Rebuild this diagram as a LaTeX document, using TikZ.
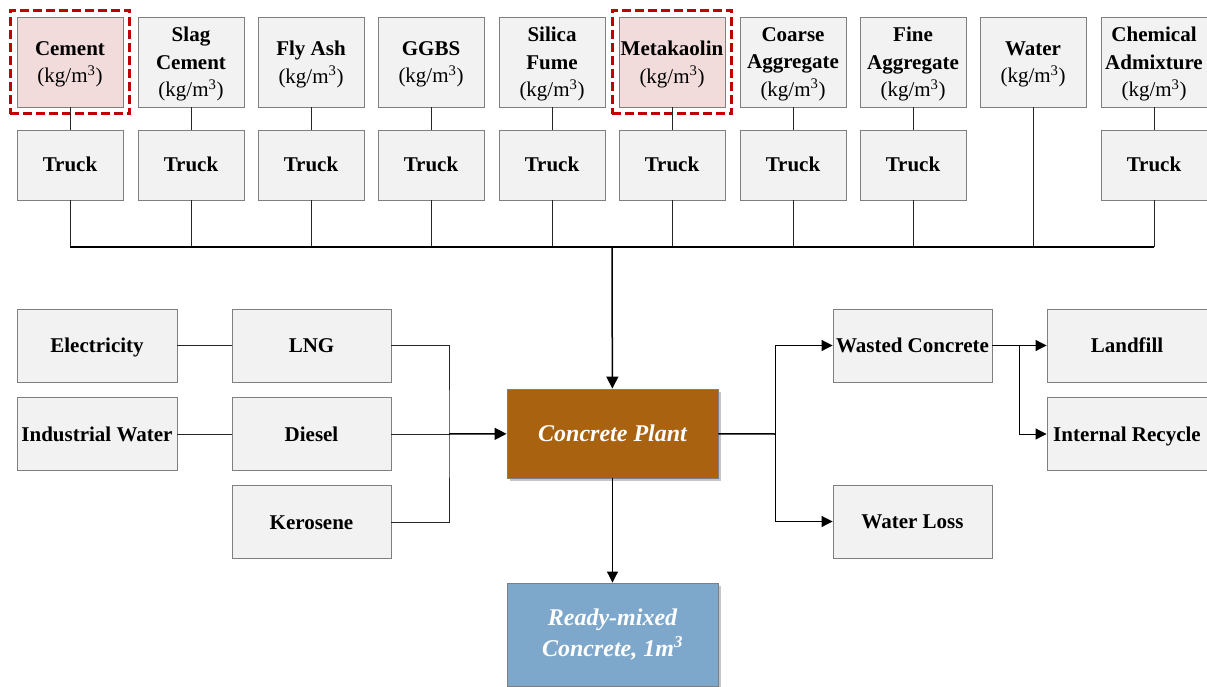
\documentclass[tikz,border=0pt]{standalone}
\usepackage{fontspec}
\setmainfont{Liberation Serif}
\usetikzlibrary{arrows.meta,fit,shadows}

\definecolor{boxgray}{HTML}{F2F2F2}
\definecolor{linegray}{HTML}{7F7F7F}
\definecolor{hilitered}{HTML}{C00000}
\definecolor{hilitefill}{HTML}{F2DCDB}
\definecolor{plantbrown}{HTML}{A9620F}
\definecolor{productblue}{HTML}{7EA8CB}

\newcommand{\perunit}{\\\mdseries(kg/m\textsuperscript{3})}

\tikzset{
  inbox/.style={draw=linegray, fill=boxgray, line width=0.9pt, minimum width=106pt, minimum height=90pt,
    inner sep=1pt, align=center, text depth=0pt, font=\fontsize{21}{27.5}\selectfont\bfseries},
  truckbox/.style={inbox, minimum height=70pt, text height=14pt},
  sidebox/.style={inbox, minimum width=160pt, minimum height=73pt, text height=14pt},
  mainbox/.style={draw=linegray, line width=0.9pt, minimum width=211pt, align=center, text=white,
    font=\fontsize{24}{31}\selectfont\bfseries\itshape,
    drop shadow={shadow xshift=2.5pt, shadow yshift=-2.5pt, fill=black!45}},
  link/.style={draw=black!85, line width=1pt},
  trunk/.style={link, draw=black, line width=1.5pt},
  flow/.style={link, draw=black, -{Triangle[length=11pt,width=11pt]}},
  hilite/.style={draw=hilitered, line width=3pt, dash pattern=on 9pt off 4pt, inner sep=6.5pt}
}

\begin{document}
\begin{tikzpicture}[x=1pt, y=-1pt]
\useasboundingbox (0,0) rectangle (1207,687);

% raw materials
\node[inbox, fill=hilitefill] (cement) at (70,62) {Cement\perunit};
\node[inbox] (slag) at (191,62) {Slag\\Cement\perunit};
\node[inbox] (flyash) at (311,62) {Fly Ash\perunit};
\node[inbox] (ggbs) at (431,62) {GGBS\perunit};
\node[inbox] (silica) at (552,62) {Silica\\Fume\perunit};
\node[inbox, fill=hilitefill] (metakaolin) at (672,62) {Metakaolin\perunit};
\node[inbox] (coarse) at (793,62) {Coarse\\Aggregate\perunit};
\node[inbox] (fine) at (913,62) {Fine\\Aggregate\perunit};
\node[inbox] (water) at (1033,62) {Water\perunit};
\node[inbox] (admix) at (1154,62) {Chemical\\Admixture\perunit};

\node[hilite, fit=(cement)] (cement-mark) {};
\node[hilite, fit=(metakaolin)] (metakaolin-mark) {};

% transport
\coordinate (bus) at (612,247);
\foreach \src/\x in {cement/70, slag/191, flyash/311, ggbs/431, silica/552,
                     metakaolin/672, coarse/793, fine/913, admix/1154} {
  \node[truckbox] (\src-trk) at (\x,165) {Truck};
  \draw[link] (\src) -- (\src-trk);
  \draw[link] (\src-trk) -- (\src-trk |- bus);
}
\draw[link] (water) -- (water |- bus);
\draw[trunk] (cement-trk |- bus) -- (admix-trk |- bus);

% plant and product
\node[mainbox, fill=plantbrown, minimum height=89pt] (plant) at (612.5,433.5) {Concrete Plant};
\node[mainbox, fill=productblue, minimum height=103pt] (ready) at (612.5,634.5) {Ready-mixed\\Concrete, 1m\textsuperscript{3}};
\draw[trunk, -{Triangle[length=12pt,width=12pt]}] (bus) -- (plant);
\draw[flow] (plant) -- (ready);

% energy and utilities
\node[sidebox] (elec) at (97,345.5) {Electricity};
\node[sidebox] (indwater) at (97,434) {Industrial Water};
\node[sidebox, minimum width=159pt] (lng) at (311.5,345.5) {LNG};
\node[sidebox, minimum width=159pt] (diesel) at (311.5,434) {Diesel};
\node[sidebox, minimum width=159pt] (kero) at (311.5,522) {Kerosene};
\coordinate (fuel) at (449,434);
\draw[link] (elec) -- (lng);
\draw[link] (indwater) -- (diesel);
\draw[link] (lng.east) -| (fuel) |- (kero.east);
\draw[link] (diesel) -- (fuel);
\draw[trunk, -{Triangle[length=12pt,width=12pt]}] (fuel) -- (plant);

% waste
\node[sidebox, minimum width=159pt] (wasted) at (912.5,345.5) {Wasted Concrete};
\node[sidebox, minimum width=159pt] (waterloss) at (912.5,521.5) {Water Loss};
\node[sidebox] (landfill) at (1127,345.5) {Landfill};
\node[sidebox] (recycle) at (1127,434) {Internal Recycle};
\coordinate (out) at (775,434);
\coordinate (split) at (1019,345.5);
\draw[trunk] (plant) -- (out);
\draw[flow] (out) |- (wasted.west);
\draw[flow] (out) |- (waterloss.west);
\draw[flow] (wasted) -- (landfill);
\draw[flow] (split) |- (recycle.west);
\end{tikzpicture}
\end{document}
